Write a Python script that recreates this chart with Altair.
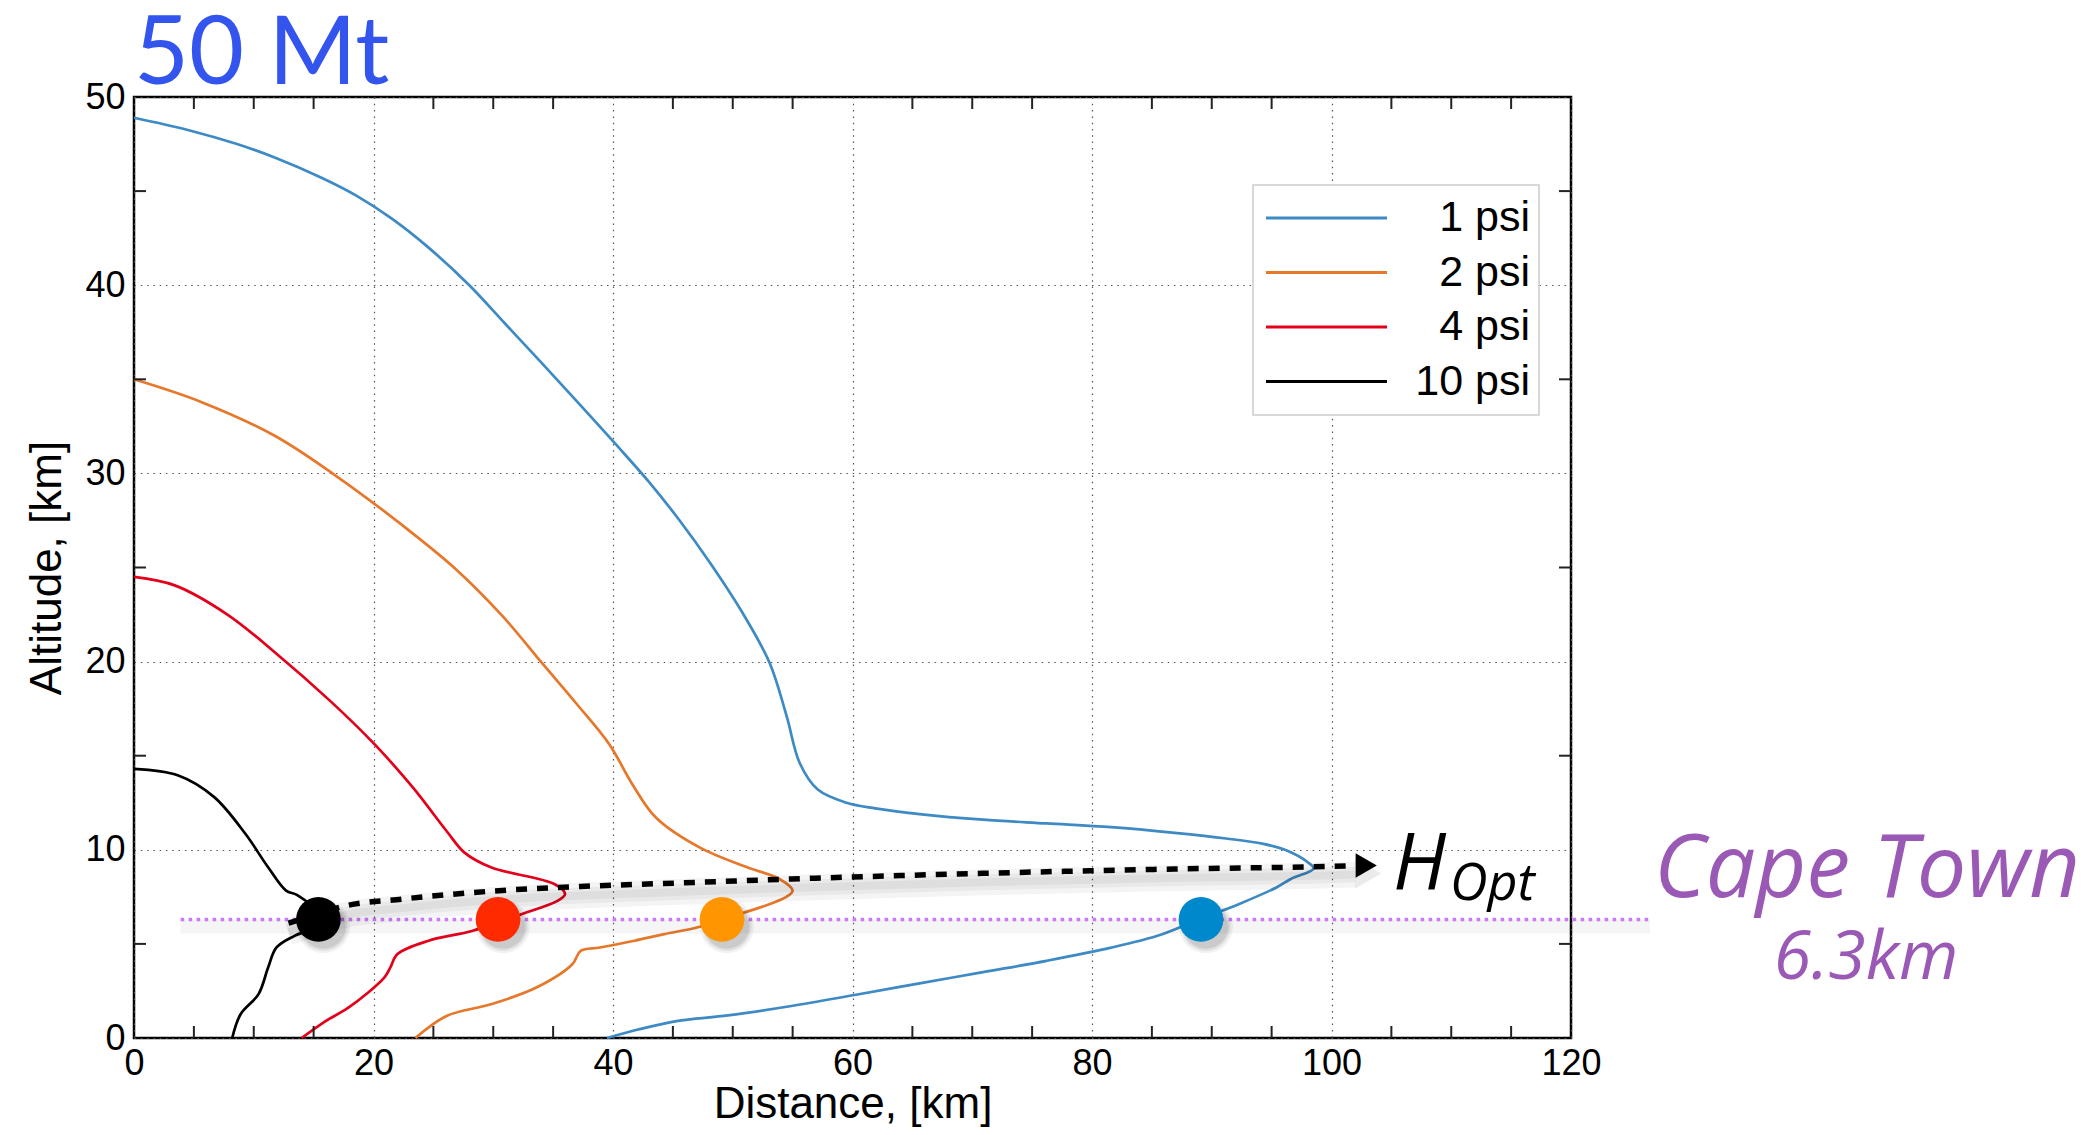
import altair as alt
import pandas as pd

# ---------------- data ----------------
series_names = ["1 psi", "2 psi", "4 psi", "10 psi"]
series_colors = ["#3d8ac4", "#e6782b", "#e3001b", "#000000"]

blue_x = [0, 4.5, 8.6, 11.9, 15.7, 18.6, 21.5, 24.5, 28.0, 31.0, 34.0, 37.1, 40.3, 43.0, 45.5,
          48.1, 50.9, 53.1, 54.5, 55.6, 57.1, 59.5, 61.9, 65.6, 70.9, 76.2, 81.6, 86.9, 91.2,
          94.4, 96.5, 98.1, 98.5, 96.6, 95.4, 92.2, 88.9, 85.8, 81.6, 76.2, 70.9, 65.6, 60.3,
          54.9, 49.6, 45.3, 42.1, 39.5]
blue_y = [48.9, 48.25, 47.5, 46.75, 45.7, 44.75, 43.55, 42.05, 40.0, 37.95, 35.9, 33.75, 31.5, 29.55, 27.55,
          25.25, 22.5, 19.9, 17.1, 14.6, 13.2, 12.5, 12.2, 11.9, 11.6, 11.4, 11.2, 10.9, 10.6,
          10.3, 9.9, 9.3, 9.0, 8.45, 8.0, 7.1, 6.3, 5.5, 4.8, 4.1, 3.5, 2.9, 2.3,
          1.7, 1.2, 0.9, 0.45, 0.0]

orange_x = [0, 5.6, 11.75, 16.8, 22.4, 26.9, 30.8, 34.1, 36.9, 39.7, 41.6, 43.6, 47.3, 51.2, 53.9,
            55.0, 54.4, 52.3, 49.6, 47.0, 44.3, 41.8, 38.9, 37.3, 36.6, 33.6, 29.8, 26.1, 23.5]
orange_y = [35.0, 33.8, 32.0, 29.9, 27.25, 24.9, 22.4, 19.9, 17.8, 15.6, 13.5, 11.7, 10.1, 9.07, 8.45,
            7.83, 7.47, 6.94, 6.4, 5.87, 5.52, 5.17, 4.81, 4.63, 3.92, 2.68, 1.79, 1.17, 0.0]

red_x = [0, 3.4, 7.8, 11.75, 16.4, 20.1, 23.3, 26.1, 27.6, 29.8, 35.1, 36.0, 35.4, 32.4, 28.3,
         24.6, 22.0, 21.4, 20.9, 17.9, 16.0, 14.0]
red_y = [24.5, 24.05, 22.5, 20.5, 17.9, 15.6, 13.3, 11.0, 9.85, 9.07, 8.18, 7.65, 7.3, 6.59, 5.7,
         5.17, 4.46, 3.74, 3.21, 1.61, 0.9, 0.0]

black_x = [0, 3.7, 6.7, 9.3, 11.2, 12.7, 13.6, 15.2, 15.0, 13.4, 11.9, 11.2, 10.4, 8.9, 8.2]
black_y = [14.3, 13.95, 12.8, 10.85, 9.07, 7.83, 7.6, 6.7, 5.9, 5.43, 4.81, 3.74, 2.33, 1.26, 0.0]

# optimal-height dashed arrow
hopt_x = [12.9, 15.4, 17.5, 22.4, 29.8, 37.3, 47.0, 54.9, 70.9, 86.9, 98.5, 102.0]
hopt_y = [6.1, 6.6, 7.0, 7.38, 7.8, 8.05, 8.27, 8.45, 8.75, 8.98, 9.1, 9.16]
arrow_x = [102.9]
arrow_y = [9.16]

# Cape Town altitude line and intersection dots
cape_x = [3.9, 126.6]
cape_y = [6.3, 6.3]
dot_x = [15.4, 30.4, 49.1, 89.1]
dot_y = [6.3, 6.3, 6.3, 6.3]
dot_colors = ["#000000", "#ff2a00", "#ff9500", "#0088cc"]

x_ticks = [0, 20, 40, 60, 80, 100, 120]
y_ticks = [0, 10, 20, 30, 40, 50]
x_minor = [v for v in range(5, 120, 5) if v % 20 != 0]
y_minor = [5, 15, 25, 35, 45]

# ---------------- layout ----------------
W, H = 1437, 941
FONT = "Liberation Sans"
TFONT = "Lato"
IFONT = "Open Sans"
X_TITLE = "Distance, [km]"
Y_TITLE = "Altitude, [km]"


def sdf(name, xs, ys):
    return pd.DataFrame({"series": name, "x": xs, "y": ys, "i": list(range(len(xs)))})


curves = pd.concat([
    sdf("1 psi", blue_x, blue_y),
    sdf("2 psi", orange_x, orange_y),
    sdf("4 psi", red_x, red_y),
    sdf("10 psi", black_x, black_y),
])

xsc = alt.Scale(domain=[0, 120], nice=False, zero=False)
ysc = alt.Scale(domain=[0, 50], nice=False, zero=False)
csc = alt.Scale(domain=series_names, range=series_colors)

grid_kw = dict(grid=True, gridDash=[1.5, 4.8], gridColor="#555555", gridWidth=1.2,
               ticks=False, domain=False, labelFont=FONT, labelFontSize=36,
               labelColor="black", labelFlush=False, labelBound=False, labelOverlap=False,
               titleFont=FONT, titleFontSize=44, titleFontWeight="normal", titleColor="black",
               format="d")

x_axis = alt.Axis(values=x_ticks, labelPadding=8, titleY=79, titleBaseline="alphabetic", **grid_kw)
y_axis = alt.Axis(values=y_ticks, labelPadding=9, titleX=-87, titleY=H / 2,
                  titleBaseline="middle", **grid_kw)


def X(f="x"):
    return alt.X(f"{f}:Q", scale=xsc, axis=x_axis, title=X_TITLE)


def Y(f="y"):
    return alt.Y(f"{f}:Q", scale=ysc, axis=y_axis, title=Y_TITLE)


lines = alt.Chart(curves).mark_line(strokeWidth=2.7, clip=False, interpolate="catmull-rom").encode(
    x=X(), y=Y(),
    color=alt.Color("series:N", scale=csc, legend=None),
    order=alt.Order("i:Q"),
)

# inward minor ticks on all four sides
xm = pd.DataFrame({"x": x_minor})
ym = pd.DataFrame({"y": y_minor})
tick_style = dict(color="#222222", strokeWidth=2)
t_bottom = alt.Chart(xm).mark_rule(**tick_style).encode(x=X(), y=alt.value(H), y2=alt.value(H - 12))
t_top = alt.Chart(xm).mark_rule(**tick_style).encode(x=X(), y=alt.value(0), y2=alt.value(12))
t_left = alt.Chart(ym).mark_rule(**tick_style).encode(y=Y(), x=alt.value(0), x2=alt.value(12))
t_right = alt.Chart(ym).mark_rule(**tick_style).encode(y=Y(), x=alt.value(W), x2=alt.value(W - 12))

# Cape Town line with soft shadow
cape = pd.DataFrame({"x": cape_x, "y": cape_y})
cape_sh = alt.Chart(cape).mark_line(color="black", opacity=0.04, strokeWidth=14, yOffset=7).encode(x=X(), y=Y())
cape_line = alt.Chart(cape).mark_line(color="#cc77ff", strokeWidth=3.5, strokeDash=[3.5, 4.5],
                                      strokeCap="butt").encode(x=X(), y=Y())

# H_opt dashed arrow with shadow
hopt = pd.DataFrame({"x": hopt_x, "y": hopt_y, "i": list(range(len(hopt_x)))})
hopt_sh = [alt.Chart(hopt).mark_line(color="black", opacity=0.045, strokeWidth=w, yOffset=9,
                                     interpolate="monotone").encode(x=X(), y=Y(), order="i:Q")
           for w in (8, 16, 26)]
hopt_line = alt.Chart(hopt).mark_line(color="black", strokeWidth=5.5, strokeDash=[11, 10],
                                      strokeCap="butt", interpolate="monotone").encode(
    x=X(), y=Y(), order="i:Q")
arrow_df = pd.DataFrame({"x": arrow_x, "y": arrow_y})
arrow = alt.Chart(arrow_df).mark_point(
    shape="triangle-right", filled=True, size=600, color="black", opacity=1).encode(x=X(), y=Y())
arrow_sh = alt.Chart(arrow_df).mark_point(
    shape="triangle-right", filled=True, color="black", opacity=0.08, size=900, xOffset=2,
    yOffset=8).encode(x=X(), y=Y())

# dots with shadow
dots = pd.DataFrame({"x": dot_x, "y": dot_y, "c": dot_colors})
dot_sh = [alt.Chart(dots).mark_circle(color="black", opacity=o, size=s, xOffset=5, yOffset=7).encode(x=X(), y=Y())
          for s, o in ((2900, 0.05), (2400, 0.07), (2000, 0.09))]
dot_marks = alt.Chart(dots).mark_circle(size=2000, opacity=1).encode(
    x=X(), y=Y(), color=alt.Color("c:N", scale=None))


# texts
def txt(s, x, y, size, color, font=TFONT, style="normal", align="left"):
    return alt.Chart(pd.DataFrame({"t": [s]})).mark_text(
        font=font, fontSize=size, fontStyle=style, color=color, align=align,
        baseline="alphabetic").encode(x=alt.value(x), y=alt.value(y), text="t:N")


title = txt("50 Mt", 0, -13, 95, "#3355ee")
h_txt = txt("H", 1259, 793, 78, "black", font=IFONT, style="italic")
opt_txt = txt("Opt", 1316, 803, 52, "black", font=IFONT, style="italic")
cape_txt = txt("Cape Town", 1733, 800, 88, "#9b59b6", font=IFONT, style="italic", align="center")
km_txt = txt("6.3km", 1732, 882, 68, "#9b59b6", font=IFONT, style="italic", align="center")

# legend (drawn manually to reproduce the right-aligned labels)
leg = pd.DataFrame({"label": series_names, "k": [0, 1, 2, 3]})
leg["ly"] = 121 + 54.5 * leg["k"]
leg["ty"] = leg["ly"] + 13
leg_box = alt.Chart(pd.DataFrame({"a": [0]})).mark_rect(fill="white", stroke="#cccccc", strokeWidth=1.5).encode(
    x=alt.value(1119), x2=alt.value(1405), y=alt.value(88), y2=alt.value(318))
leg_lines = alt.Chart(leg).mark_rule(strokeWidth=3).encode(
    x=alt.value(1132), x2=alt.value(1253), y=alt.Y("ly:Q", scale=None),
    color=alt.Color("label:N", scale=csc, legend=None))
leg_text = alt.Chart(leg).mark_text(font=FONT, fontSize=43, align="right", baseline="alphabetic",
                                    color="black").encode(
    x=alt.value(1396), y=alt.Y("ty:Q", scale=None), text="label:N")

chart = alt.layer(
    lines, t_bottom, t_top, t_left, t_right,
    cape_sh, cape_line,
    *hopt_sh, hopt_line, arrow_sh, arrow,
    *dot_sh, dot_marks,
    title, h_txt, opt_txt, cape_txt, km_txt,
    leg_box, leg_lines, leg_text,
).properties(
    width=W, height=H,
    background="white",
    padding={"left": 126, "top": 89, "right": 521, "bottom": 89},
    autosize=alt.AutoSizeParams(type="none"),
).configure_view(stroke="black", strokeWidth=2.5)

chart.save("out.html", embed_options={"renderer": "svg", "actions": False})
